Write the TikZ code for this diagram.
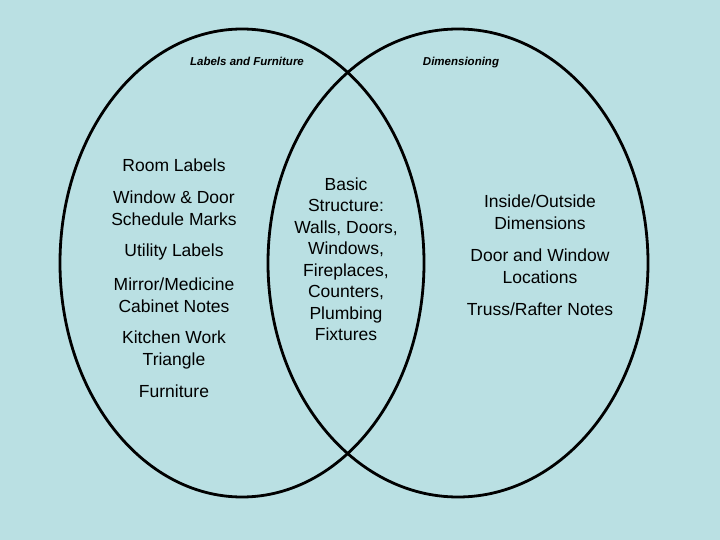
\documentclass[tikz,border=0pt]{standalone}
\usepackage{fontspec}
\setmainfont{Liberation Sans}
\definecolor{bgblue}{RGB}{186,224,227}
\tikzset{
  venn/.style={draw=black, line width=2.8pt},
  item/.style={align=center, inner sep=0pt, font=\fontsize{17.5}{21.5}\selectfont},
  head/.style={inner sep=0pt, font=\fontsize{11.5}{14}\selectfont\bfseries\itshape}
}
\begin{document}
\begin{tikzpicture}[x=1pt,y=-1pt]
\fill[bgblue] (0,0) rectangle (720,540);
\useasboundingbox (0,0) rectangle (720,540);
\draw[venn] (242,263) ellipse [x radius=182, y radius=234];
\draw[venn] (458,263) ellipse [x radius=190, y radius=234];
\node[head, anchor=base] (h1) at (247,66) {Labels and Furniture};
\node[head, anchor=base] (h2) at (461,66) {Dimensioning};
\node[item] (l1) at (174,165) {Room Labels};
\node[item] (l2) at (174,208) {Window \& Door\\Schedule Marks};
\node[item] (l3) at (174,252) {Utility Labels};
\node[item] (l4) at (174,295) {Mirror/Medicine\\Cabinet Notes};
\node[item] (l5) at (174,350) {Kitchen Work\\Triangle};
\node[item] (l6) at (174,391) {Furniture};
\node[item] (m1) at (346,259) {Basic\\Structure:\\Walls, Doors,\\Windows,\\Fireplaces,\\Counters,\\Plumbing\\Fixtures};
\node[item] (r1) at (540,212) {Inside/Outside\\Dimensions};
\node[item] (r2) at (540,266) {Door and Window\\Locations};
\node[item] (r3) at (540,309) {Truss/Rafter Notes};
\end{tikzpicture}
\end{document}
